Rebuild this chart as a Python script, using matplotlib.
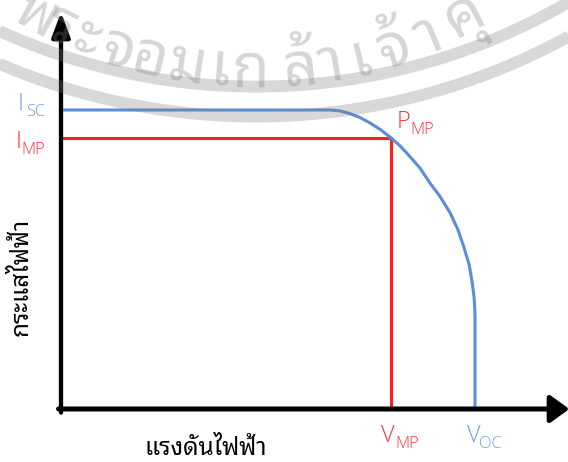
import matplotlib
matplotlib.use("Agg")
import matplotlib.pyplot as plt
import numpy as np
from matplotlib.patches import ArrowStyle

# ---------------- data (normalised: V_OC = 1, I_SC = 1) ----------------
voltage = [0.0, 0.650, 0.674, 0.698, 0.722, 0.746, 0.771, 0.797, 0.819, 0.843,
           0.867, 0.891, 0.915, 0.940, 0.959, 0.973, 0.986, 0.993, 0.998, 1.0, 1.0]
current = [1.0, 1.0, 0.997, 0.988, 0.975, 0.957, 0.935, 0.907, 0.880, 0.844,
           0.806, 0.756, 0.712, 0.656, 0.599, 0.542, 0.482, 0.425, 0.371, 0.314, 0.0]
v_mp, i_mp = 0.797, 0.907
v_oc, i_sc = 1.0, 1.0

x_label = "แรงดันไฟฟ้า"
y_label = "กระแสไฟฟ้า"
watermark = ["พ", "ร", "ะ", "จ", "อ", "ม", "เ", "ก", "ล้", "า", "เ", "จ้", "า", "คุ"]

# ---------------- style ----------------
BLUE = "#5B8ED8"
BLUE_T = "#6E9EE0"
RED = "#FF1F1F"
RED_T = "#FF3434"
THAI = ["Noto Sans Thai Looped", "DejaVu Sans"]
LAT = ["Open Sans", "DejaVu Sans"]

W, H = 568, 462
fig = plt.figure(figsize=(W / 100, H / 100), dpi=100)
fig.patch.set_facecolor("white")

ox, oy = 61, 409          # origin in pixels
sx, sy = 414.0, 299.0     # pixels per unit
ax = fig.add_axes([ox / W, (H - oy) / H, (W - ox) / W, oy / H])
ax.set_xlim(0, (W - ox) / sx)
ax.set_ylim(0, oy / sy)
ax.axis("off")

# red MPP rectangle
ax.plot([0, v_mp, v_mp], [i_mp, i_mp, 0], color=RED, lw=2.2,
        solid_joinstyle="miter", solid_capstyle="butt", zorder=2)
# I-V curve
ax.plot(voltage, current, color=BLUE, lw=2.2, solid_capstyle="butt", zorder=2)

# axes arrows
ax.annotate("", xy=(0, 1.327), xytext=(0, -0.012),
            arrowprops=dict(arrowstyle=ArrowStyle("-|>", head_length=15.0, head_width=5.6),
                            lw=3.1, color="black", shrinkA=0, shrinkB=0, mutation_scale=1),
            annotation_clip=False, zorder=4)
ax.annotate("", xy=(1.228, 0), xytext=(-0.006, 0),
            arrowprops=dict(arrowstyle=ArrowStyle("-|>", head_length=11.5, head_width=8.3),
                            lw=3.6, color="black", shrinkA=0, shrinkB=0, mutation_scale=1),
            annotation_clip=False, zorder=4)


def ftext(x, y, s, **kw):
    return fig.text(x / W, 1 - y / H, s, **kw)


def label(x_main, x_sub, y_base, main, sub, color):
    ftext(x_main, y_base, main, ha="left", va="baseline", fontsize=17,
          family=LAT, weight=300, color=color)
    ftext(x_sub, y_base + 6, sub, ha="left", va="baseline", fontsize=11.8,
          family=LAT, weight=300, color=color)


label(18, 26, 110, "I", "SC", BLUE_T)
label(16, 21, 148, "I", "MP", RED_T)
label(397, 410, 128.5, "P", "MP", RED_T)
label(381, 395, 441.5, "V", "MP", RED_T)
label(467, 479, 441.5, "V", "OC", BLUE_T)

ftext(206, 449, x_label, ha="center", va="center", fontsize=17.5, family=THAI, color="black")
ftext(22, 277, y_label, ha="center", va="center", rotation=90, fontsize=17.5,
      family=THAI, color="black")

# ---------------- watermark (seal arcs + curved text) ----------------
wax = fig.add_axes([0, 0, 1, 1], zorder=10)
wax.set_xlim(0, W)
wax.set_ylim(H, 0)
wax.axis("off")
wax.patch.set_alpha(0)

WM = "#7F7F7F"
cx, cy = 256, -534
for R in (620.6, 650.6):
    th = np.linspace(np.arcsin(-300 / R), np.arcsin(340 / R), 200)
    wax.plot(cx + R * np.sin(th), cy + R * np.cos(th), color=WM, alpha=0.30,
             lw=8.5, solid_capstyle="butt")

tcx, tcy, tR = 255, -382, 454
angles = [-28.8, -25.3, -21.7, -17.6, -13.4, -8.7, -4.4, -0.6, 5.7, 9.6,
          13.5, 17.8, 22.5, 27.8]
for ch, a in zip(watermark, angles):
    t = np.radians(a)
    wax.text(tcx + tR * np.sin(t), tcy + tR * np.cos(t), ch, rotation=a,
             rotation_mode="anchor", ha="center", va="center", fontsize=44,
             family=THAI, color=WM, alpha=0.32)

fig.savefig("out.png", dpi=100, facecolor="white")
